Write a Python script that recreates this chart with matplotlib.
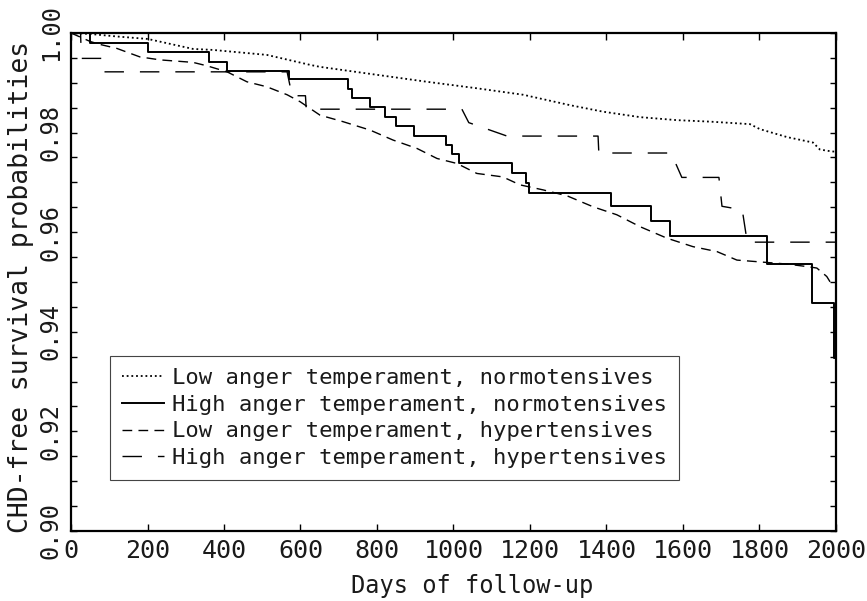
import matplotlib
matplotlib.use('Agg')
import matplotlib.pyplot as plt
from matplotlib.ticker import MultipleLocator

plt.rcParams['font.family'] = ['DejaVu Sans Mono', 'DejaVu Sans']

# Low anger temperament, normotensives (dotted)
low_norm_days = [0, 50, 120, 201, 319, 371, 512, 625, 651, 800, 931, 1061, 1182, 1305,
                 1391, 1488, 1584, 1671, 1775, 1801, 1872, 1940, 1958, 1990, 2000]
low_norm_surv = [1.0, 0.9998, 0.9993, 0.9988, 0.9968, 0.9966, 0.9956, 0.9936, 0.9932, 0.9916,
                 0.9902, 0.9889, 0.9876, 0.9855, 0.9842, 0.9831, 0.9825, 0.9822, 0.9817,
                 0.9807, 0.9791, 0.9780, 0.9766, 0.9762, 0.9762]

# High anger temperament, normotensives (solid, steps)
high_norm_days = [0, 50, 200, 361, 407, 569, 725, 735, 782, 821, 849, 897, 980, 995, 1014,
                  1152, 1189, 1198, 1411, 1516, 1566, 1820, 1938, 1995, 2000]
high_norm_surv = [1.0, 0.9979, 0.9961, 0.9942, 0.9924, 0.9907, 0.9888, 0.9869, 0.9851, 0.9832,
                  0.9813, 0.9794, 0.9775, 0.9757, 0.9738, 0.9718, 0.9698, 0.9679, 0.9653,
                  0.9623, 0.9592, 0.9536, 0.9458, 0.9347, 0.9347]

# Low anger temperament, hypertensives (short dashes)
low_hyp_days = [0, 50, 76, 120, 180, 233, 319, 356, 408, 460, 512, 565, 599, 651, 711, 782,
                842, 905, 957, 1009, 1061, 1129, 1174, 1234, 1297, 1365, 1427, 1488, 1558,
                1626, 1689, 1741, 1872, 1924, 1950, 1976, 1992]
low_hyp_surv = [1.0, 0.9983, 0.9977, 0.9969, 0.9952, 0.9946, 0.9941, 0.9934, 0.9922, 0.9902,
                0.9892, 0.9876, 0.9862, 0.9835, 0.9822, 0.9805, 0.9785, 0.9768, 0.9748,
                0.9738, 0.9718, 0.9711, 0.9695, 0.9685, 0.9673, 0.9651, 0.9635, 0.9611,
                0.9588, 0.9571, 0.9561, 0.9544, 0.9536, 0.9531, 0.9528, 0.9511, 0.9491]

# High anger temperament, hypertensives (long dashes)
high_hyp_days = [0, 25, 27, 80, 82, 565, 578, 613, 615, 1022, 1040, 1140, 1378, 1380,
                 1569, 1597, 1694, 1702, 1755, 1768, 2000]
high_hyp_surv = [1.0, 1.0, 0.9949, 0.9949, 0.9922, 0.9922, 0.9874, 0.9874, 0.9847, 0.9847,
                 0.9820, 0.9793, 0.9793, 0.9759, 0.9759, 0.9710, 0.9710, 0.9652, 0.9645,
                 0.9580, 0.9580]

labels = ['Low anger temperament, normotensives',
          'High anger temperament, normotensives',
          'Low anger temperament, hypertensives',
          'High anger temperament, hypertensives']

txt = '#1a1a1a'

fig = plt.figure(figsize=(8.67, 6.01), dpi=100)
ax = fig.add_axes([0.0819, 0.1165, 0.8823, 0.8286])

ax.plot(low_norm_days, low_norm_surv, color='black', lw=1.3, dashes=(1.0, 1.6), label=labels[0])
ax.plot(high_norm_days, high_norm_surv, color='black', lw=1.4, drawstyle='steps-post', label=labels[1])
ax.plot(low_hyp_days, low_hyp_surv, color='black', lw=1.0, dashes=(7, 4.5), label=labels[2])
ax.plot(high_hyp_days, high_hyp_surv, color='black', lw=1.0, dashes=(14, 11.5), label=labels[3])

ax.set_xlim(0, 2000)
ax.set_ylim(0.90, 1.00)
ax.set_xticks(range(0, 2001, 200))
ax.set_xticklabels([str(d) for d in range(0, 2001, 200)], fontsize=18, color=txt)
yt = [0.90, 0.92, 0.94, 0.96, 0.98, 1.00]
ax.set_yticks(yt)
ax.set_yticklabels(['%.2f' % v for v in yt], rotation=90, va='center', fontsize=17, color=txt)
ax.yaxis.set_minor_locator(MultipleLocator(0.005))
ax.tick_params(axis='both', which='both', direction='in', top=True, right=True, width=1)
ax.tick_params(axis='x', which='major', length=5, pad=6)
ax.tick_params(axis='y', which='major', length=4, pad=6)
ax.tick_params(axis='y', which='minor', length=4)
for s in ax.spines.values():
    s.set_linewidth(1.6)

fig.text(21 / 867, 1 - 287 / 601, 'CHD-free survival probabilities', rotation=90,
         ha='center', va='center', fontsize=19, color=txt)
fig.text(472 / 867, 1 - 586 / 601, 'Days of follow-up', ha='center', va='center',
         fontsize=17, color=txt)

leg = ax.legend(loc='lower left', bbox_to_anchor=(0.051, 0.102), frameon=True, fancybox=False,
                edgecolor='#444444', framealpha=1, fontsize=16, handlelength=1.9,
                handletextpad=0.35, labelspacing=0.3, borderpad=0.55, borderaxespad=0)
leg.get_frame().set_linewidth(0.8)
for t in leg.get_texts():
    t.set_color(txt)

fig.savefig('out.png', dpi=100)
